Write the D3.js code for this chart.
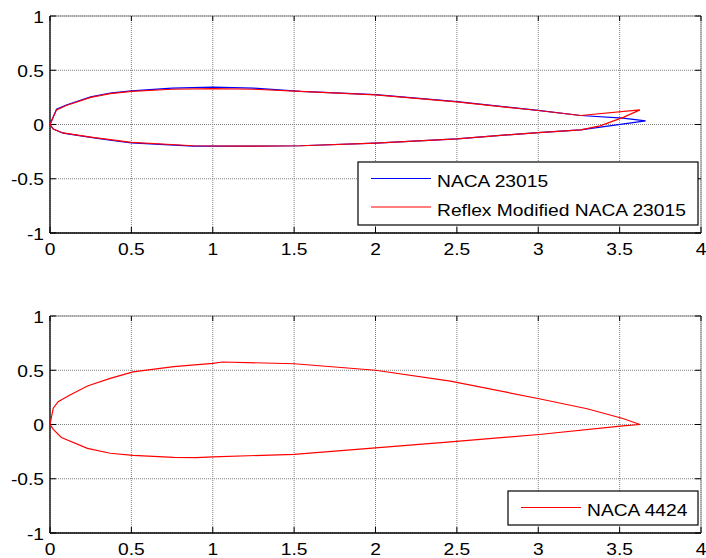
<!DOCTYPE html>
<html>
<head>
<script src="https://d3js.org/d3.v7.min.js"></script>
<style>
  body { margin: 0; background: #fff; }
  text { font-family: "Liberation Sans", Arial, sans-serif; font-size: 16.5px; fill: #000; }
</style>
</head>
<body>
<svg id="plot" width="706" height="558"></svg>
<script>
// tick values
const xTicks = [0, 0.5, 1, 1.5, 2, 2.5, 3, 3.5, 4];
const yTicks = [-1, -0.5, 0, 0.5, 1];

// NACA 23015 (blue)
const n23UpperX = [0, 0.04, 0.1, 0.25, 0.37, 0.5, 0.75, 1.0, 1.25, 1.54, 2.0, 2.5, 3.0, 3.26, 3.52, 3.66];
const n23UpperY = [0, 0.14, 0.18, 0.255, 0.29, 0.31, 0.335, 0.345, 0.335, 0.305, 0.275, 0.21, 0.13, 0.083, 0.059, 0.034];
const n23LowerX = [0, 0.02, 0.08, 0.25, 0.37, 0.5, 0.88, 1.0, 1.25, 1.54, 2.0, 2.5, 3.0, 3.26, 3.66];
const n23LowerY = [0, -0.042, -0.08, -0.118, -0.145, -0.17, -0.2, -0.2, -0.2, -0.196, -0.171, -0.132, -0.074, -0.049, 0.034];

// Reflex modified NACA 23015 (red)
const refUpperX = [0, 0.04, 0.1, 0.25, 0.37, 0.5, 0.75, 1.0, 1.25, 1.54, 2.0, 2.5, 3.0, 3.26, 3.625];
const refUpperY = [0, 0.135, 0.175, 0.25, 0.285, 0.305, 0.325, 0.33, 0.325, 0.305, 0.273, 0.208, 0.129, 0.083, 0.135];
const refLowerX = [0, 0.02, 0.08, 0.25, 0.37, 0.5, 0.88, 1.0, 1.25, 1.54, 2.0, 2.5, 3.0, 3.26, 3.38, 3.526, 3.625];
const refLowerY = [0, -0.042, -0.078, -0.116, -0.14, -0.165, -0.196, -0.198, -0.2, -0.196, -0.171, -0.132, -0.074, -0.049, -0.012, 0.068, 0.135];

// NACA 4424 (red)
const n44UpperX = [0, 0.02, 0.05, 0.12, 0.23, 0.37, 0.51, 0.76, 1.0, 1.06, 1.5, 2.0, 2.46, 3.02, 3.3, 3.52, 3.625];
const n44UpperY = [0, 0.15, 0.21, 0.27, 0.355, 0.425, 0.485, 0.533, 0.564, 0.576, 0.56, 0.5, 0.4, 0.233, 0.145, 0.055, 0];
const n44LowerX = [0, 0.02, 0.07, 0.23, 0.37, 0.51, 0.76, 0.9, 1.0, 1.5, 2.0, 2.46, 3.02, 3.52, 3.625];
const n44LowerY = [0, -0.045, -0.12, -0.22, -0.265, -0.285, -0.303, -0.305, -0.298, -0.275, -0.215, -0.16, -0.09, -0.013, 0];

const svg = d3.select('svg#plot');
const SX = 1.165; // matlab text is a bit wide

function label(g, x, y, str, anchor) {
    g.append('text')
        .attr('transform', `translate(${x},${y}) scale(${SX},1)`)
        .attr('text-anchor', anchor)
        .text(str);
}

function toPts(xs, ys) { return xs.map((d, i) => [d, ys[i]]); }

function drawAxes(top, bottom, series, legend) {
    const x = d3.scaleLinear().domain([0, 4]).range([50, 701]);
    const y = d3.scaleLinear().domain([-1, 1]).range([bottom, top]);
    const g = svg.append('g');

    // grid
    xTicks.forEach(t => {
        g.append('line').attr('x1', x(t)).attr('x2', x(t)).attr('y1', top).attr('y2', bottom)
            .style('stroke', '#808080').style('stroke-dasharray', '1,1');
    });
    yTicks.forEach(t => {
        g.append('line').attr('x1', 50).attr('x2', 701).attr('y1', y(t)).attr('y2', y(t))
            .style('stroke', '#808080').style('stroke-dasharray', '1,1');
    });

    // box top / right (grey)
    g.append('line').attr('x1', 50).attr('x2', 701).attr('y1', top).attr('y2', top).style('stroke', '#8a8a8a');
    g.append('line').attr('x1', 701).attr('x2', 701).attr('y1', top).attr('y2', bottom).style('stroke', '#8a8a8a');

    // ticks (inward)
    xTicks.forEach(t => {
        g.append('line').attr('x1', x(t)).attr('x2', x(t)).attr('y1', bottom).attr('y2', bottom - 6).style('stroke', '#000');
        g.append('line').attr('x1', x(t)).attr('x2', x(t)).attr('y1', top).attr('y2', top + 5).style('stroke', '#000');
        label(g, x(t), bottom + 21.5, String(t), 'middle');
    });
    yTicks.forEach(t => {
        g.append('line').attr('x1', 50).attr('x2', 56).attr('y1', y(t)).attr('y2', y(t)).style('stroke', '#000');
        g.append('line').attr('x1', 701).attr('x2', 695).attr('y1', y(t)).attr('y2', y(t)).style('stroke', '#000');
        label(g, 44, y(t) + 6.5, String(t), 'end');
    });

    // left / bottom axis lines
    g.append('line').attr('x1', 50).attr('x2', 50).attr('y1', top).attr('y2', bottom).style('stroke', '#000').style('stroke-width', 1.3);
    g.append('line').attr('x1', 50).attr('x2', 701).attr('y1', bottom).attr('y2', bottom).style('stroke', '#000').style('stroke-width', 1.3);

    // curves
    const line = d3.line().x(d => x(d[0])).y(d => y(d[1]));
    series.forEach(s => {
        const pts = s.upper.slice().reverse().concat(s.lower.slice(1));
        g.append('path').attr('d', line(pts))
            .style('fill', 'none').style('stroke', s.color).style('stroke-width', 1.2);
    });

    // legend
    const lg = g.append('g');
    lg.append('rect').attr('x', legend.x).attr('y', legend.y).attr('width', legend.w).attr('height', legend.h)
        .style('fill', '#fff').style('stroke', '#000').style('stroke-width', 1.2);
    series.forEach((s, i) => {
        const ly = legend.y + 16.5 + i * 28.5;
        lg.append('line').attr('x1', legend.x + 13).attr('x2', legend.x + 73).attr('y1', ly).attr('y2', ly)
            .style('stroke', s.color).style('stroke-width', 1.2);
        label(lg, legend.x + 79, ly + 8.7, s.name, 'start');
    });
}

drawAxes(16, 233, [
    {name: 'NACA 23015', color: '#0000ff', upper: toPts(n23UpperX, n23UpperY), lower: toPts(n23LowerX, n23LowerY)},
    {name: 'Reflex Modified NACA 23015', color: '#ff0000', upper: toPts(refUpperX, refUpperY), lower: toPts(refLowerX, refLowerY)}
], {x: 358, y: 162, w: 340, h: 63});

drawAxes(316, 533, [
    {name: 'NACA 4424', color: '#ff0000', upper: toPts(n44UpperX, n44UpperY), lower: toPts(n44LowerX, n44LowerY)}
], {x: 508, y: 491, w: 190, h: 34});
</script>
</body>
</html>
